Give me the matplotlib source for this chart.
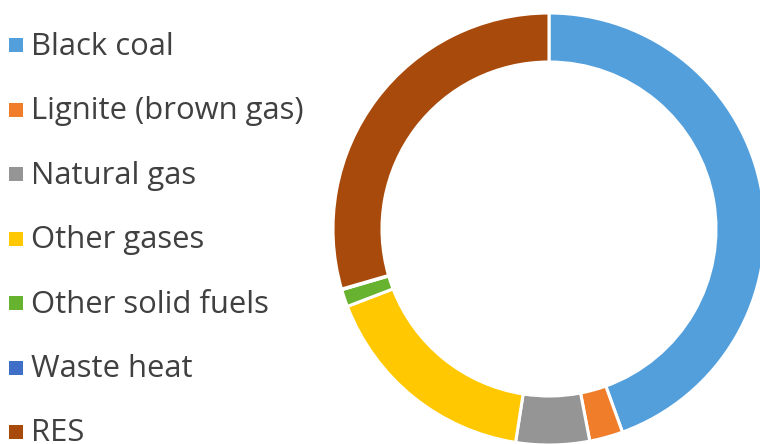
import matplotlib
matplotlib.use("Agg")
import matplotlib.pyplot as plt

categories = ["Black coal", "Lignite (brown gas)", "Natural gas", "Other gases",
              "Other solid fuels", "Waste heat", "RES"]
shares = [44.5, 2.5, 5.5, 16.7, 1.3, 0.05, 29.5]
colors = ["#539FDC", "#F07D2A", "#959595", "#FFC800", "#67B22E", "#3F6FC6", "#A84A0C"]

W, H = 760, 444
fig = plt.figure(figsize=(W / 100, H / 100), dpi=100)
ax = fig.add_axes([0, 0, 1, 1])

cx, cy = 549, H - 229
R, ring = 216, 49
ax.pie(shares, colors=colors, startangle=90, counterclock=False,
       center=(cx, cy), radius=R,
       wedgeprops=dict(width=ring, edgecolor="white", linewidth=2.2))
ax.set_xlim(0, W)
ax.set_ylim(0, H)
ax.set_aspect("equal")
ax.axis("off")

base0, dy = 55, 64.4
for i, (lab, col) in enumerate(zip(categories, colors)):
    yb = H - (base0 + i * dy)
    ax.scatter([16], [yb + 9.5], marker="s", s=95, color=col, linewidths=0)
    ax.text(31, yb, lab, fontsize=22.3, family="Open Sans", color="#404040",
            va="baseline", ha="left")

fig.savefig("out.png", dpi=100)
